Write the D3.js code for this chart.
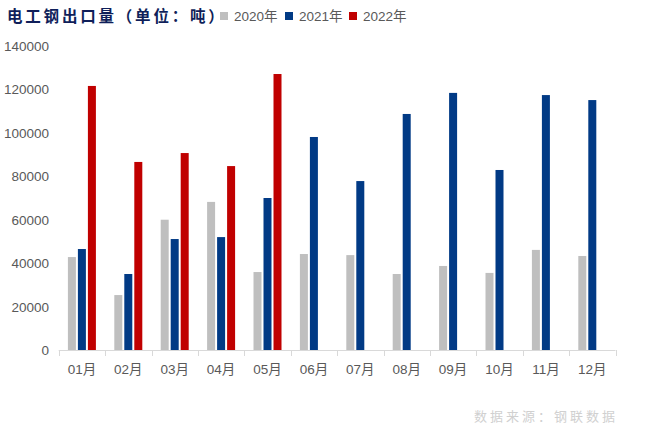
<!DOCTYPE html>
<html><head><meta charset="utf-8">
<script src="https://cdn.jsdelivr.net/npm/d3@7/dist/d3.min.js"></script>
<style>
html,body{margin:0;padding:0;background:#fff;}
svg{display:block;}
</style></head>
<body>
<svg id="chart" width="646" height="439"></svg>
<script>
const months = ["01月","02月","03月","04月","05月","06月","07月","08月","09月","10月","11月","12月"];
const seriesNames = ["2020年","2021年","2022年"];
const colors = ["#bfbfbf","#013a85","#c00000"];
const values2020 = [42800,25300,60000,68200,35900,44200,43700,35000,38700,35500,46100,43300];
const values2021 = [46500,35000,51100,52000,70000,98100,77800,108700,118400,82900,117400,115100];
const values2022 = [121600,86600,90700,84700,127100,null,null,null,null,null,null,null];
const yTicks = [0,20000,40000,60000,80000,100000,120000,140000];
const title = "电工钢出口量（单位：吨）";
const source = "数据来源：钢联数据";

const allSeries = [values2020, values2021, values2022];
const svg = d3.select("#chart");
const plotLeft = 58.7, plotRight = 615.5, plotTop = 46, plotBottom = 350;

const x = d3.scaleBand().domain(months).range([plotLeft, plotRight]).paddingInner(0).paddingOuter(0);
const y = d3.scaleLinear().domain([0,140000]).range([plotBottom, plotTop]);

const barW = 8, step = 10;

// bars
allSeries.forEach((vals, si) => {
  svg.append("g").selectAll("rect")
    .data(vals.map((v,i)=>({v, m: months[i]})).filter(d=>d.v!=null))
    .join("rect")
    .attr("x", d => x(d.m) + x.bandwidth()/2 - 14 + si*step)
    .attr("y", d => y(d.v))
    .attr("width", barW)
    .attr("height", d => y(0) - y(d.v))
    .attr("fill", colors[si]);
});

// x axis line and ticks
const gx = svg.append("g");
gx.append("line").attr("x1", plotLeft).attr("x2", plotRight).attr("y1", plotBottom+0.5).attr("y2", plotBottom+0.5)
  .attr("stroke", "#d9d9d9").attr("stroke-width", 1);
const boundaries = months.map(m => x(m)).concat([plotRight]);
gx.selectAll("line.tk").data(boundaries).join("line").attr("class","tk")
  .attr("x1", d => Math.round(d)+0.5).attr("x2", d => Math.round(d)+0.5)
  .attr("y1", plotBottom).attr("y2", plotBottom+6)
  .attr("stroke", "#d9d9d9").attr("stroke-width", 1);
gx.selectAll("text").data(months).join("text")
  .attr("x", d => x(d) + x.bandwidth()/2)
  .attr("y", 374)
  .attr("text-anchor", "middle")
  .attr("font-family", "'Liberation Sans', Arial, 'Noto Sans CJK SC', sans-serif")
  .attr("font-size", 13.5)
  .attr("fill", "#595959")
  .text(d => d);

// y axis labels
svg.append("g").selectAll("text").data(yTicks).join("text")
  .attr("x", 49)
  .attr("y", d => y(d) + 5)
  .attr("text-anchor", "end")
  .attr("font-family", "'Liberation Sans', Arial, sans-serif")
  .attr("font-size", 13.5)
  .attr("fill", "#595959")
  .text(d => d);

// title
svg.append("text")
  .attr("x", 7).attr("y", 22)
  .attr("font-family", "'Noto Sans CJK SC', sans-serif")
  .attr("font-weight", "bold")
  .attr("font-size", 15.5)
  .attr("letter-spacing", 2.8)
  .attr("fill", "#0f1f5a")
  .text(title);

// legend
const legendX = [220, 285, 349];
const lg = svg.append("g");
seriesNames.forEach((n, i) => {
  lg.append("rect").attr("x", legendX[i]).attr("y", 12).attr("width", 8).attr("height", 8).attr("fill", colors[i]);
  lg.append("text").attr("x", legendX[i] + 14).attr("y", 21)
    .attr("font-family", "'Liberation Sans', Arial, 'Noto Sans CJK SC', sans-serif")
    .attr("font-size", 13.5).attr("fill", "#595959").text(n);
});

// source
svg.append("text")
  .attr("x", 618).attr("y", 421)
  .attr("text-anchor", "end")
  .attr("font-family", "'Noto Sans CJK SC', sans-serif")
  .attr("font-size", 13)
  .attr("letter-spacing", 3)
  .attr("fill", "#d0d0d0")
  .text(source);
</script>
</body></html>
